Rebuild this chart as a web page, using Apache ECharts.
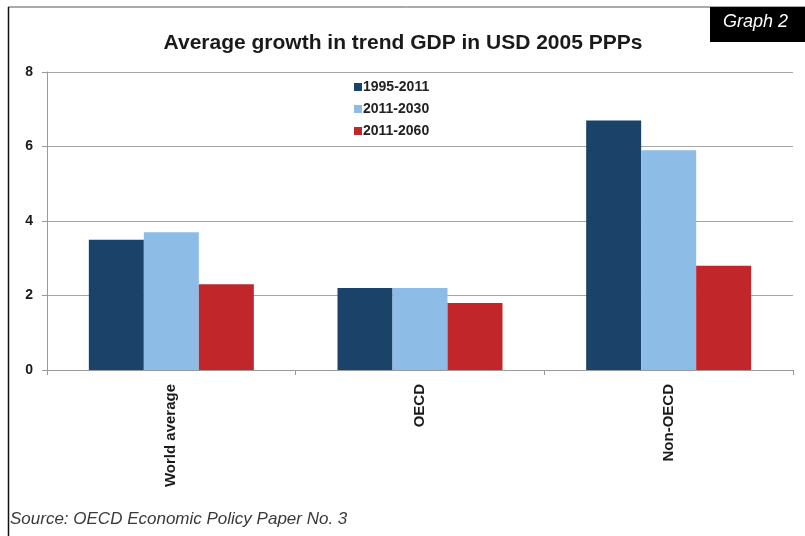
<!DOCTYPE html>
<html>
<head>
<meta charset="UTF-8"/>
<title>Average growth in trend GDP</title>
<script src="https://cdn.jsdelivr.net/npm/echarts@6/dist/echarts.min.js"></script>
<style>
  html, body { margin: 0; padding: 0; background: #fff; }
  #chart { width: 805px; height: 536px; }
</style>
</head>
<body>
<div id="chart"></div>
<script>
var categories = ['World average', 'OECD', 'Non-OECD'];
var seriesNames = ['1995-2011', '2011-2030', '2011-2060'];
var values1995_2011 = [3.5, 2.2, 6.7];
var values2011_2030 = [3.7, 2.2, 5.9];
var values2011_2060 = [2.3, 1.8, 2.8];
var yTicks = [0, 2, 4, 6, 8];

var colors = ['#1b4269', '#8dbde6', '#c1262b'];
var font = 'Liberation Sans, Arial, sans-serif';

var chart = echarts.init(document.getElementById('chart'));

var option = {
    animation: false,
    backgroundColor: '#fff',
    title: {
        text: 'Average growth in trend GDP in USD 2005 PPPs',
        left: 398,
        textAlign: 'center',
        top: 28,
        textStyle: { fontFamily: font, fontSize: 21, fontWeight: 'bold', color: '#1a1a1a' }
    },
    legend: {
        orient: 'vertical',
        left: 349,
        top: 75,
        itemWidth: 8,
        itemHeight: 8,
        itemGap: 8,
        icon: 'rect',
        data: seriesNames,
        textStyle: { fontFamily: font, fontSize: 14, fontWeight: 'bold', color: '#222', padding: [0, 0, 0, -4] }
    },
    grid: { left: 47, right: 12, top: 72, bottom: 166, containLabel: false },
    xAxis: {
        type: 'category',
        data: categories,
        axisLine: { lineStyle: { color: '#999', width: 1 } },
        axisTick: { show: true, length: 5, lineStyle: { color: '#999' } },
        axisLabel: {
            rotate: 90,
            margin: 14,
            fontFamily: font,
            fontSize: 15,
            fontWeight: 'bold',
            color: '#1a1a1a'
        }
    },
    yAxis: {
        type: 'value',
        min: yTicks[0],
        max: yTicks[yTicks.length - 1],
        interval: 2,
        axisLine: { show: true, lineStyle: { color: '#999' } },
        axisTick: { show: true, length: 5, lineStyle: { color: '#999' } },
        splitLine: { lineStyle: { color: '#a6a6a6', width: 1 } },
        axisLabel: { margin: 14, fontFamily: font, fontSize: 14, fontWeight: 'bold', color: '#1a1a1a' }
    },
    series: [
        { name: seriesNames[0], type: 'bar', data: values1995_2011, itemStyle: { color: colors[0] }, barWidth: 55, barGap: '0%' },
        { name: seriesNames[1], type: 'bar', data: values2011_2030, itemStyle: { color: colors[1] }, barWidth: 55, barGap: '0%' },
        { name: seriesNames[2], type: 'bar', data: values2011_2060, itemStyle: { color: colors[2] }, barWidth: 55, barGap: '0%' }
    ],
    graphic: [
        { type: 'line', shape: { x1: 8, y1: 7, x2: 805, y2: 7 }, style: { stroke: '#555', lineWidth: 1 } },
        { type: 'line', shape: { x1: 8.5, y1: 7, x2: 8.5, y2: 536 }, style: { stroke: '#111', lineWidth: 1.5 } },
        { type: 'rect', shape: { x: 710, y: 7, width: 95, height: 35 }, style: { fill: '#000' } },
        {
            type: 'text', left: 723, top: 13,
            style: { text: 'Graph 2', fill: '#fff', font: 'italic 18px ' + font }
        },
        {
            type: 'text', left: 10, top: 511,
            style: { text: 'Source: OECD Economic Policy Paper No. 3', fill: '#3a3a3a', font: 'italic 17px ' + font }
        }
    ]
};

chart.setOption(option);
</script>
</body>
</html>
